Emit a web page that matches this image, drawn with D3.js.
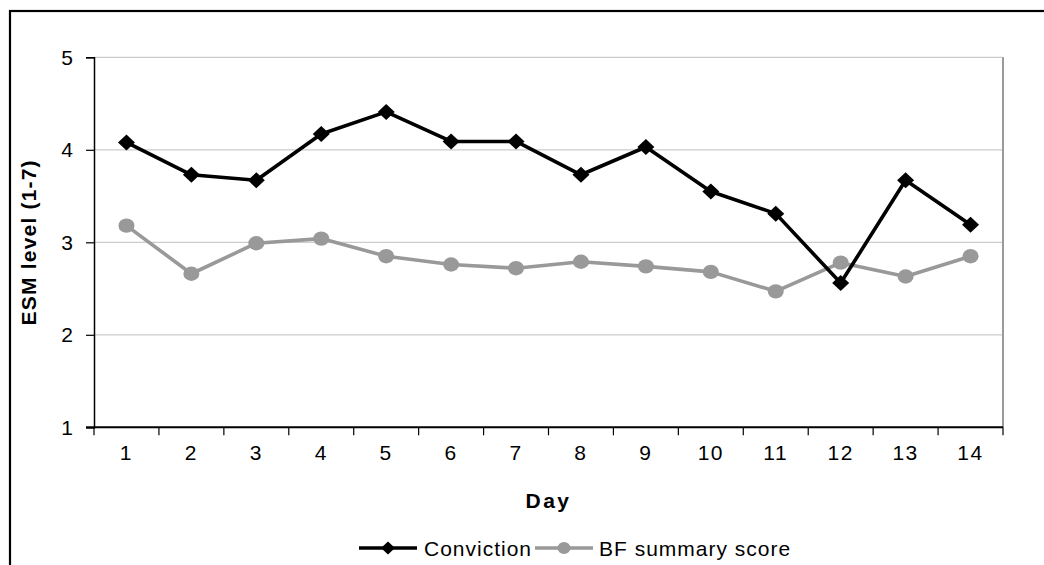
<!DOCTYPE html>
<html>
<head>
<meta charset="utf-8">
<script src="https://cdn.jsdelivr.net/npm/d3@7/dist/d3.min.js"></script>
<style>
  html, body { margin: 0; padding: 0; background: #fff; }
  svg { display: block; }
  text { font-family: Arial, "Liberation Sans", sans-serif; fill: #000; }
</style>
</head>
<body>
<svg id="chart" width="1044" height="565"></svg>
<script>
// Daily ESM means over the 14-day sampling period
const days = [1, 2, 3, 4, 5, 6, 7, 8, 9, 10, 11, 12, 13, 14];
const conviction = [4.08, 3.73, 3.67, 4.17, 4.41, 4.09, 4.09, 3.73, 4.03, 3.55, 3.31, 2.56, 3.67, 3.19];
const bfSummary = [3.18, 2.66, 2.99, 3.04, 2.85, 2.76, 2.72, 2.79, 2.74, 2.68, 2.47, 2.78, 2.63, 2.85];
const yTicks = [1, 2, 3, 4, 5];
const seriesNames = ["Conviction", "BF summary score"];

const svg = d3.select("#chart");

// Outer frame (runs off the right and bottom edges)
svg.append("rect")
  .attr("x", 10).attr("y", 11)
  .attr("width", 1100).attr("height", 600)
  .attr("fill", "none").attr("stroke", "#000").attr("stroke-width", 2.2);

const plotLeft = 94, plotRight = 1003, plotTop = 57.3, plotBottom = 427.3;

const x = d3.scaleBand().domain(days).range([plotLeft, plotRight]);
const y = d3.scaleLinear().domain([1, 5]).range([plotBottom, plotTop]);

// Horizontal gridlines
svg.append("g").selectAll("line")
  .data(yTicks.filter(d => d > 1))
  .join("line")
  .attr("x1", plotLeft).attr("x2", plotRight)
  .attr("y1", d => y(d)).attr("y2", d => y(d))
  .attr("stroke", "#cccccc").attr("stroke-width", 1.2);

// Right edge of the plot area
svg.append("line")
  .attr("x1", plotRight).attr("x2", plotRight)
  .attr("y1", plotTop).attr("y2", plotBottom)
  .attr("stroke", "#9a9a9a").attr("stroke-width", 2);

// Y axis
const yAxis = svg.append("g")
  .attr("transform", `translate(${plotLeft},0)`)
  .call(d3.axisLeft(y).tickValues(yTicks).tickSize(8).tickPadding(13).tickFormat(d3.format("d")));
yAxis.select(".domain").attr("stroke", "#000").attr("stroke-width", 1.5);
yAxis.selectAll(".tick line").attr("stroke", "#000").attr("stroke-width", 1.2);
yAxis.selectAll(".tick text")
  .attr("font-size", 21).attr("font-family", "Arial, 'Liberation Sans', sans-serif");

// X axis: labels centred in each band, ticks on the band boundaries
const xAxis = svg.append("g")
  .attr("transform", `translate(0,${plotBottom})`)
  .call(d3.axisBottom(x).tickSize(0).tickPadding(18));
xAxis.select(".domain").remove();
xAxis.selectAll(".tick text")
  .attr("font-size", 21).attr("letter-spacing", 1.5)
  .attr("font-family", "Arial, 'Liberation Sans', sans-serif");

svg.append("line")
  .attr("x1", plotLeft - 8).attr("x2", plotRight)
  .attr("y1", plotBottom).attr("y2", plotBottom)
  .attr("stroke", "#000").attr("stroke-width", 2);

svg.append("g").selectAll("line")
  .data(days.map(d => x(d)).concat([plotRight]))
  .join("line")
  .attr("x1", d => d).attr("x2", d => d)
  .attr("y1", plotBottom).attr("y2", plotBottom + 8)
  .attr("stroke", "#000").attr("stroke-width", 1.2);

// Axis titles
svg.append("text")
  .attr("transform", `translate(36,${(plotTop + plotBottom) / 2}) rotate(-90)`)
  .attr("text-anchor", "middle")
  .attr("font-size", 21).attr("font-weight", "bold").attr("letter-spacing", 1.2)
  .text("ESM level (1-7)");

svg.append("text")
  .attr("x", (plotLeft + plotRight) / 2).attr("y", 508)
  .attr("text-anchor", "middle")
  .attr("font-size", 21).attr("font-weight", "bold").attr("letter-spacing", 2.5)
  .text("Day");

const cx = d => x(d) + x.bandwidth() / 2;

// Lines
const line = d3.line().x((d, i) => cx(days[i])).y(d => y(d));

svg.append("path")
  .datum(bfSummary)
  .attr("d", line)
  .attr("fill", "none").attr("stroke", "#999999").attr("stroke-width", 3.6)
  .attr("stroke-linejoin", "round");

svg.append("g").selectAll("ellipse")
  .data(bfSummary)
  .join("ellipse")
  .attr("cx", (d, i) => cx(days[i])).attr("cy", d => y(d))
  .attr("rx", 8).attr("ry", 7.2)
  .attr("fill", "#999999");

svg.append("path")
  .datum(conviction)
  .attr("d", line)
  .attr("fill", "none").attr("stroke", "#000").attr("stroke-width", 3.6)
  .attr("stroke-linejoin", "round");

const diamond = (px, py, w, h) =>
  `M${px},${py - h}L${px + w},${py}L${px},${py + h}L${px - w},${py}Z`;

svg.append("g").selectAll("path")
  .data(conviction)
  .join("path")
  .attr("d", (d, i) => diamond(cx(days[i]), y(d), 8.5, 8))
  .attr("fill", "#000");

// Legend
const legendY = 548;
const legend = svg.append("g");
const items = [
  { name: seriesNames[0], color: "#000", x0: 359, x1: 417, tx: 424, marker: "diamond" },
  { name: seriesNames[1], color: "#999999", x0: 535, x1: 593, tx: 599, marker: "circle" }
];
items.forEach(it => {
  legend.append("line")
    .attr("x1", it.x0).attr("x2", it.x1)
    .attr("y1", legendY).attr("y2", legendY)
    .attr("stroke", it.color).attr("stroke-width", 3.4);
  const mx = (it.x0 + it.x1) / 2;
  if (it.marker === "diamond") {
    legend.append("path").attr("d", diamond(mx, legendY, 7, 6.5)).attr("fill", it.color);
  } else {
    legend.append("ellipse").attr("cx", mx).attr("cy", legendY)
      .attr("rx", 6.5).attr("ry", 6).attr("fill", it.color);
  }
  legend.append("text")
    .attr("x", it.tx).attr("y", legendY + 7.5)
    .attr("font-size", 21).attr("letter-spacing", 1)
    .text(it.name);
});
</script>
</body>
</html>
